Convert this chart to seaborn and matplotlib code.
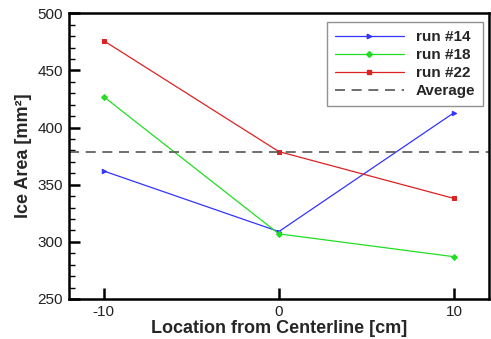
import matplotlib
matplotlib.use("Agg")
import matplotlib.pyplot as plt
import seaborn as sns
import pandas as pd
from matplotlib.ticker import MultipleLocator
from matplotlib.lines import Line2D

sns.set_theme(style="white")
plt.rcParams['font.family'] = ['Liberation Sans', 'DejaVu Sans']
plt.rcParams['axes.unicode_minus'] = False

locations = [-10, 0, 10]
run14 = [362, 309, 413]
run18 = [427, 307, 287]
run22 = [476, 379, 338]
average = 379
series_names = ["run #14", "run #18", "run #22"]
colors = ["#3333ff", "#22dd22", "#dd2222"]
markers = [">", "D", "s"]
msizes = [3.2, 3.0, 3.0]

fig = plt.figure(figsize=(4.91, 3.39), dpi=100)
ax = fig.add_axes([68.7/491, 1-299/339, (489-68.7)/491, (299-13.3)/339])

rows = []
for name, vals in zip(series_names, [run14, run18, run22]):
    for x, v in zip(locations, vals):
        rows.append({"loc": x, "area": v, "run": name})
df = pd.DataFrame(rows)

for name, c, m, ms in zip(series_names, colors, markers, msizes):
    sns.lineplot(data=df[df["run"] == name], x="loc", y="area", color=c,
                 marker=m, markersize=ms, markeredgecolor=c, linewidth=0.9,
                 ax=ax, legend=False)
ax.axhline(average, color="#555555", linestyle=(0, (6, 4)), linewidth=1.2)

ax.set_xlim(-12, 12)
ax.set_ylim(250, 500)
ax.set_xticks([-10, 0, 10])
ax.yaxis.set_major_locator(MultipleLocator(50))
ax.yaxis.set_minor_locator(MultipleLocator(10))
ax.tick_params(axis='both', which='major', direction='in', length=8, width=1.8,
               labelsize=11, color='black', labelcolor='#222222', pad=4)
ax.tick_params(axis='y', which='minor', direction='in', length=4, width=1.0, color='black', left=True)
ax.tick_params(axis='x', which='both', top=False, bottom=True)
ax.tick_params(axis='y', which='both', right=False, left=True)
for s in ax.spines.values():
    s.set_color('black')
    s.set_linewidth(1.8)

ax.set_xlabel("Location from Centerline [cm]", fontsize=13, fontweight='bold', labelpad=1)
ax.set_ylabel("Ice Area [mm²]", fontsize=13, fontweight='bold', labelpad=4)

handles = [Line2D([], [], color=c, marker=m, markersize=ms, linewidth=0.9)
           for c, m, ms in zip(colors, markers, msizes)]
handles.append(Line2D([], [], color="#555555", linestyle=(0, (6, 4)), linewidth=1.2))
leg = ax.legend(handles, series_names + ["Average"], loc='upper right',
                bbox_to_anchor=(0.986, 0.968), frameon=True, fancybox=False,
                prop={'weight': 'bold', 'size': 11}, handlelength=4.5, numpoints=1,
                markerfirst=True, borderpad=0.5, labelspacing=0.26, handletextpad=0.8,
                borderaxespad=0)
leg.get_frame().set_edgecolor('#777777')
leg.get_frame().set_linewidth(1.0)
leg._legend_box.align = "left"

fig.savefig("out.png", dpi=100)
